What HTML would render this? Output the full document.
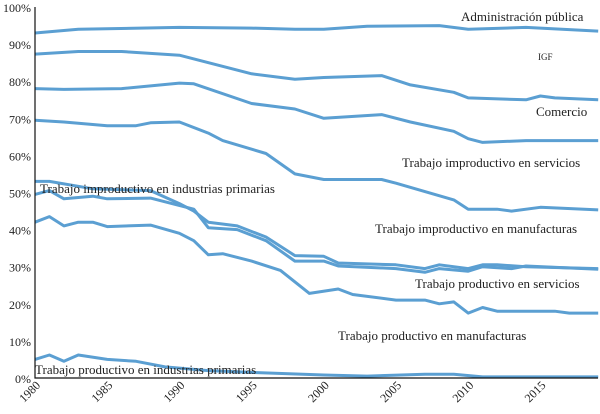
<!DOCTYPE html>
<html><head><meta charset="utf-8"><style>
body{margin:0;background:#fff}
svg text{font-family:"Liberation Serif",serif;fill:#222}
</style></head><body>
<svg id="chart" width="600" height="409" viewBox="0 0 600 409" xmlns="http://www.w3.org/2000/svg"></svg>
<script>
const years=[1980,1985,1990,1995,2000,2005,2010,2015];
const yTicks=[0,10,20,30,40,50,60,70,80,90,100];
const sAdm=[[1980,93],[1983,94],[1990,94.5],[1995,94.3],[1998,94],[2000,94],[2003,94.8],[2008,95],[2010,94],[2014,94.5],[2019,93.5]];
const sIGF=[[1980,87.3],[1983,88],[1986,88],[1990,87],[1995,82],[1998,80.5],[2000,81],[2004,81.5],[2006,79],[2009,77],[2010,75.5],[2014,75],[2015,76],[2016,75.5],[2019,75]];
const sCom=[[1980,78],[1982,77.8],[1986,78],[1990,79.5],[1991,79.3],[1995,74],[1998,72.5],[2000,70],[2004,71],[2006,69],[2009,66.5],[2010,64.5],[2011,63.5],[2014,64],[2019,64]];
const sImpServ=[[1980,69.5],[1982,69],[1985,68],[1987,68],[1988,68.8],[1990,69],[1992,66],[1993,64],[1996,60.5],[1998,55],[2000,53.5],[2004,53.5],[2005,52.5],[2009,48],[2010,45.5],[2012,45.5],[2013,45],[2015,46],[2019,45.3]];
const sImpPrim=[[1980,53],[1981,53],[1984,51],[1988,50.5],[1990,47],[1991,45],[1992,42],[1994,41],[1995,39.5],[1996,38],[1998,33],[2000,32.8],[2001,31],[2005,30.5],[2007,29.5],[2008,30.5],[2010,29.5],[2011,30.5],[2012,30.5],[2014,30],[2019,29.5]];
const sImpManu=[[1980,49.5],[1981,50.5],[1982,48.3],[1984,49],[1985,48.3],[1988,48.5],[1991,45.5],[1992,40.5],[1994,40],[1996,37],[1998,31.5],[2000,31.5],[2001,30.2],[2005,29.5],[2007,28.5],[2008,29.5],[2010,28.8],[2011,30],[2013,29.5],[2014,30.2],[2019,29.3]];
const sProdServ=[[1980,42],[1981,43.5],[1982,41],[1983,42],[1984,42],[1985,40.8],[1988,41.2],[1990,39],[1991,37],[1992,33.2],[1993,33.5],[1995,31.5],[1997,29],[1999,22.8],[2001,24],[2002,22.5],[2005,21],[2007,21],[2008,20],[2009,20.5],[2010,17.5],[2011,19],[2012,18],[2016,18],[2017,17.5],[2019,17.5]];
const sProdPrim=[[1980,5],[1981,6.2],[1982,4.5],[1983,6.2],[1985,5],[1987,4.5],[1989,3],[1992,2],[1995,1.5],[2000,0.8],[2003,0.5],[2007,1],[2009,1],[2011,0.3],[2019,0.3]];
const series=[["adm-publica",sAdm],["igf",sIGF],["comercio",sCom],["improductivo-servicios",sImpServ],["improductivo-primarias",sImpPrim],["improductivo-manufacturas",sImpManu],["productivo-servicios",sProdServ],["productivo-primarias",sProdPrim]];
const labels=[["Administración pública",461,21,13],["IGF",538,60,9],["Comercio",536,116,13],["Trabajo improductivo en servicios",402,167,13],["Trabajo improductivo en industrias primarias",40,193,13],["Trabajo improductivo en manufacturas",375,233,13],["Trabajo productivo en servicios",415,288,13],["Trabajo productivo en manufacturas",338,340,13],["Trabajo productivo en industrias primarias",35,374,13]];
const X=y=>35+(y-1980)*14.44;
const Y=v=>378-v*3.71;
const svg=document.getElementById('chart');
const NS="http://www.w3.org/2000/svg";
function mk(t,a){const e=document.createElementNS(NS,t);for(const k in a)e.setAttribute(k,a[k]);svg.appendChild(e);return e;}
series.forEach(([n,d])=>{
  const p=mk('path',{d:d.map((q,i)=>(i?'L':'M')+X(q[0]).toFixed(1)+','+Y(q[1]).toFixed(1)).join(''),fill:'none',stroke:'#5b9fd2','stroke-width':3,'stroke-linejoin':'round'});
  
  
});
const ax=mk('path',{d:'M35,7V378H598',fill:'none',stroke:'#111','stroke-width':1.2});


yTicks.forEach(v=>{
  const t=mk('text',{x:31,y:Y(v)+5,'text-anchor':'end','font-size':12});
  t.textContent=v+'%';
  
  
});
years.forEach(y=>{
  const t=mk('text',{x:X(y)+6,y:386,'text-anchor':'end','font-size':12,transform:`rotate(-45 ${X(y)+6} 386)`});
  t.textContent=y;
  
  
});
labels.forEach(([s,x,y,f])=>{
  const t=mk('text',{x:x,y:y,'font-size':f});
  t.textContent=s;
  
  
});
</script>
</body></html>
